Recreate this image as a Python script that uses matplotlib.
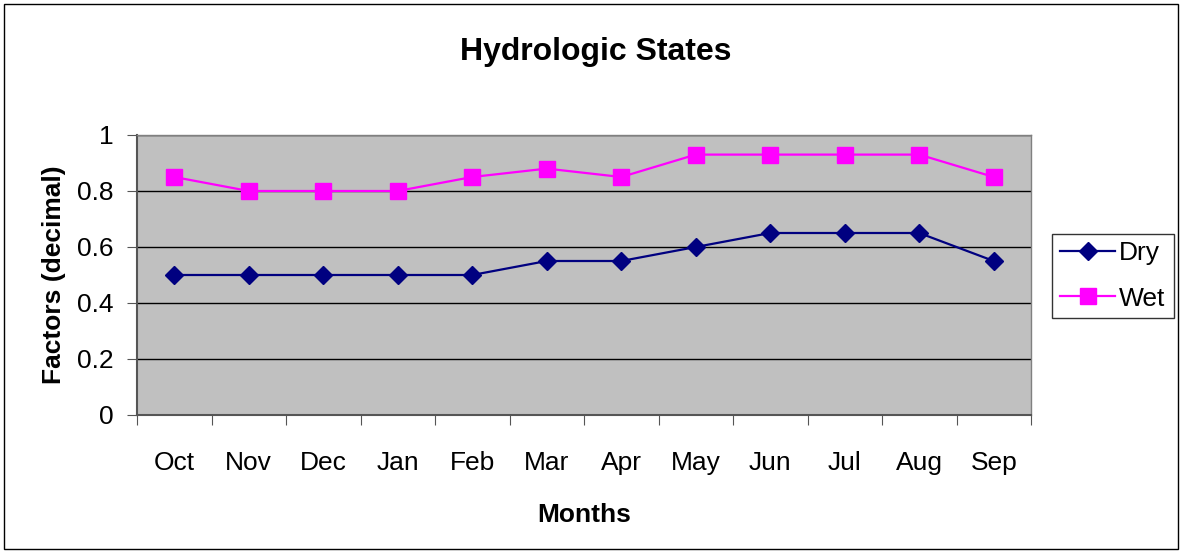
import matplotlib
matplotlib.use("Agg")
import matplotlib.pyplot as plt
from matplotlib.patches import Rectangle

months = ["Oct", "Nov", "Dec", "Jan", "Feb", "Mar", "Apr", "May", "Jun", "Jul", "Aug", "Sep"]
dry = [0.5, 0.5, 0.5, 0.5, 0.5, 0.55, 0.55, 0.6, 0.65, 0.65, 0.65, 0.55]
wet = [0.85, 0.8, 0.8, 0.8, 0.85, 0.88, 0.85, 0.93, 0.93, 0.93, 0.93, 0.85]
yticks = [0, 0.2, 0.4, 0.6, 0.8, 1]

plt.rcParams["font.family"] = ["Liberation Sans", "DejaVu Sans"]
FS = 19

W, H = 1182, 553
fig = plt.figure(figsize=(W / 100, H / 100), dpi=100, facecolor="white")
ax = fig.add_axes([137 / W, 1 - 415 / H, (1031 - 137) / W, (415 - 135) / H])
ax.set_facecolor("#C0C0C0")

x = list(range(len(months)))
ax.plot(x, dry, color="#000080", lw=1.6, marker="D", ms=9, label="Dry")
ax.plot(x, wet, color="#FF00FF", lw=1.6, marker="s", ms=11.5, label="Wet")

ax.set_xlim(-0.5, len(months) - 0.5)
ax.set_ylim(0, 1)
ax.set_yticks(yticks)
ax.set_yticklabels([f"{v:g}" for v in yticks], fontsize=FS)
ax.yaxis.grid(True, color="black", lw=1)
ax.set_axisbelow(True)

# month labels sit between the tick marks at category boundaries
ax.set_xticks([i + 0.5 for i in range(-1, len(months))])
ax.set_xticklabels([])
ax.set_xticks(x, minor=True)
ax.set_xticklabels(months, minor=True, fontsize=FS)
ax.tick_params(axis="x", which="minor", length=0, pad=26)
ax.tick_params(axis="x", which="major", length=7, color="#555555", direction="out")
ax.tick_params(axis="y", length=7, color="#555555", direction="out", pad=10)

for s in ("left", "bottom"):
    ax.spines[s].set_color("#555555")
    ax.spines[s].set_linewidth(1.5)
for s in ("right", "top"):
    ax.spines[s].set_color("#808080")
    ax.spines[s].set_linewidth(1)

ax.set_xlabel("Months", fontsize=FS, fontweight="bold", labelpad=20)
ax.set_ylabel("Factors (decimal)", fontsize=FS, fontweight="bold", labelpad=8)
fig.text(596 / W, 1 - 52 / H, "Hydrologic States", ha="center", va="center",
         fontsize=23, fontweight="bold")

leg = fig.legend(loc="center left", bbox_to_anchor=(1052 / W, 1 - 276 / H),
                 fontsize=FS, frameon=True, fancybox=False, edgecolor="black",
                 handlelength=2.1, handletextpad=0.15, borderpad=0.3,
                 labelspacing=0.8, borderaxespad=0)
leg.get_frame().set_linewidth(1)

fig.patches.append(Rectangle((4 / W, 4 / H), (W - 8) / W, (H - 8) / H,
                             transform=fig.transFigure, fill=False,
                             edgecolor="black", lw=1))

fig.savefig("out.png", dpi=100, facecolor="white")
